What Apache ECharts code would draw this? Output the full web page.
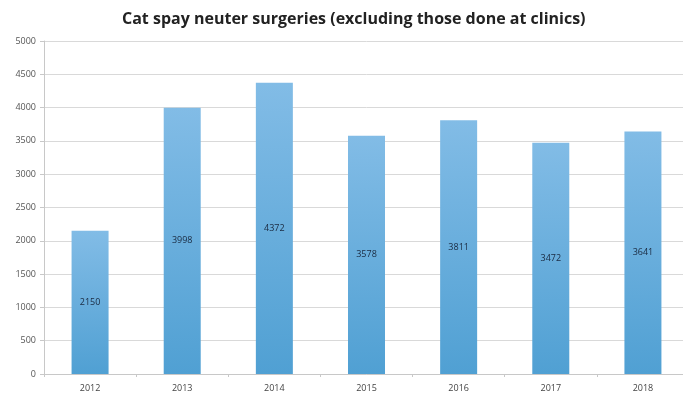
<!DOCTYPE html>
<html>
<head>
<meta charset="utf-8">
<script src="https://cdn.jsdelivr.net/npm/echarts@6/dist/echarts.min.js"></script>
<style>
html,body{margin:0;padding:0;background:#fff;overflow:hidden;}
#chart{width:689px;height:399px;}
</style>
</head>
<body>
<div id="chart"></div>
<script>
var title = 'Cat spay neuter surgeries (excluding those done at clinics)';
var years = ['2012', '2013', '2014', '2015', '2016', '2017', '2018'];
var surgeries = [2150, 3998, 4372, 3578, 3811, 3472, 3641];
var yTicks = [0, 500, 1000, 1500, 2000, 2500, 3000, 3500, 4000, 4500, 5000];

var chart = echarts.init(document.getElementById('chart'), null, {renderer: 'canvas'});
chart.setOption({
  animation: false,
  backgroundColor: '#ffffff',
  title: {
    text: title,
    left: 117,
    top: 6,
    textStyle: {
      fontFamily: 'Open Sans',
      fontWeight: 'bold',
      fontSize: 16,
      color: '#222'
    }
  },
  grid: {left: 44, right: 0, top: 41, bottom: 25},
  xAxis: {
    type: 'category',
    data: years,
    axisLine: {lineStyle: {color: '#c8c8c8', width: 1}},
    axisTick: {show: true, length: 3, lineStyle: {color: '#c8c8c8'}},
    axisLabel: {color: '#444', fontSize: 9, fontFamily: 'Open Sans', margin: 10}
  },
  yAxis: {
    type: 'value',
    min: yTicks[0],
    max: yTicks[yTicks.length - 1],
    interval: 500,
    axisLine: {show: true, lineStyle: {color: '#c8c8c8', width: 1}},
    axisTick: {show: true, length: 4, lineStyle: {color: '#c8c8c8'}},
    axisLabel: {color: '#555', fontSize: 9, fontFamily: 'Open Sans', margin: 8,
      formatter: function (v) { return String(v); }},
    splitLine: {lineStyle: {color: '#d9d9d9', width: 1}}
  },
  series: [{
    type: 'bar',
    data: surgeries,
    barWidth: 37,
    itemStyle: {
      color: new echarts.graphic.LinearGradient(0, 0, 0, 1, [
        {offset: 0, color: '#82bce6'},
        {offset: 1, color: '#50a0d3'}
      ])
    },
    label: {
      show: true,
      position: 'inside',
      color: '#1a2a40',
      fontSize: 9,
      fontFamily: 'Open Sans'
    }
  }]
});
</script>
</body>
</html>
